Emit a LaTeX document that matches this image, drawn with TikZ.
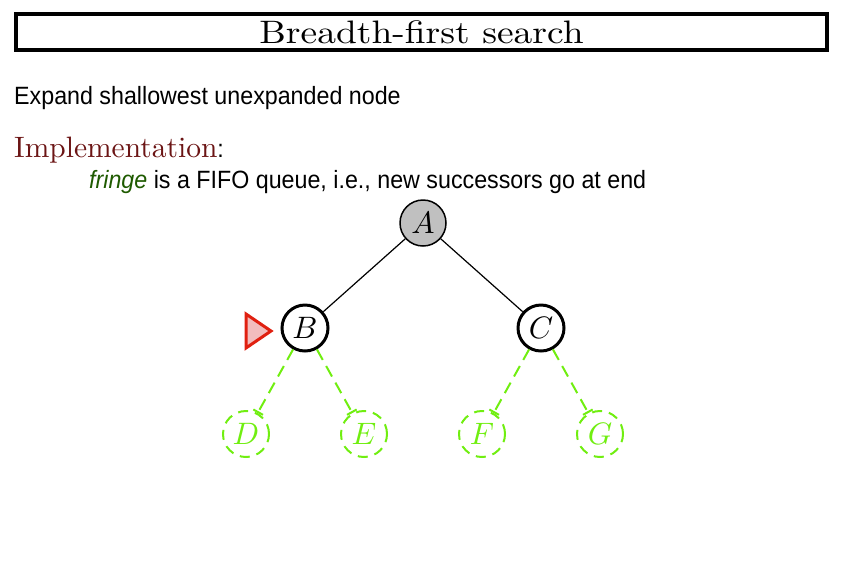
\documentclass[tikz,border=0pt]{standalone}
\usepackage{fontspec}
\newfontfamily\sansf{Liberation Sans}[FakeStretch=0.93]
\usetikzlibrary{arrows.meta}
\definecolor{impred}{HTML}{6B1414}
\definecolor{frgreen}{HTML}{1E5A00}
\definecolor{lgreen}{HTML}{70EE10}
\definecolor{nodegray}{HTML}{C0C0C0}
\definecolor{trired}{HTML}{E02010}
\definecolor{tripink}{HTML}{F2BDBD}
\newcommand\nodelabel[1]{\scalebox{3.1}{$#1$}}
\tikzset{
  treenode/.style={circle, draw=black, minimum size=46pt, inner sep=0pt, font=\fontsize{10}{12}\selectfont},
  expanded/.style={treenode, fill=nodegray, line width=1.5pt},
  fringenode/.style={treenode, fill=white, line width=3pt},
  unseen/.style={treenode, draw=lgreen, text=lgreen, dash pattern=on 10pt off 7pt, line width=2pt},
  solidedge/.style={draw=black, line width=1.2pt},
  newedge/.style={draw=lgreen, line width=2pt, dash pattern=on 12pt off 7pt, -{Bar[width=11pt,line width=2pt]}},
  sanstext/.style={font=\sansf\fontsize{25}{27}\selectfont, inner sep=0pt, anchor=base west}
}
\begin{document}
\begin{tikzpicture}[x=1pt,y=-1pt]
\useasboundingbox (0,0) rectangle (842,566);
\node[draw=black, line width=4.5pt, minimum width=811pt, minimum height=36pt, inner sep=0pt, font=\fontsize{10}{12}\selectfont] (title) at (421.5,32) {\scalebox{3.75}[3.25]{Breadth-first search}};
\node[sanstext] (l1) at (14,104) {Expand shallowest unexpanded node};
\node[sanstext] (l2) at (14,157) {{\rmfamily\fontsize{10}{12}\selectfont\color{impred}\scalebox{2.95}{Implementation}}:};
\node[sanstext] (l3) at (89,188) {{\itshape\color{frgreen}fringe} is a FIFO queue, i.e., new successors go at end};
\node[expanded] (A) at (423,223) {\nodelabel{A}};
\node[fringenode] (B) at (305,328) {\nodelabel{B}};
\node[fringenode] (C) at (541,328) {\nodelabel{C}};
\node[unseen] (D) at (246,434) {\nodelabel{D}};
\node[unseen] (E) at (364,434) {\nodelabel{E}};
\node[unseen] (F) at (482,434) {\nodelabel{F}};
\node[unseen] (G) at (600,434) {\nodelabel{G}};
\draw[solidedge] (A) -- (B);
\draw[solidedge] (A) -- (C);
\draw[newedge] (B) -- (D);
\draw[newedge] (B) -- (E);
\draw[newedge] (C) -- (F);
\draw[newedge] (C) -- (G);
\coordinate (t1) at (246,314);
\coordinate (t2) at (246,348);
\coordinate (t3) at (271,331);
\draw[draw=trired, fill=tripink, line width=3pt, line join=miter] (t1) -- (t3) -- (t2) -- cycle;
\end{tikzpicture}
\end{document}
